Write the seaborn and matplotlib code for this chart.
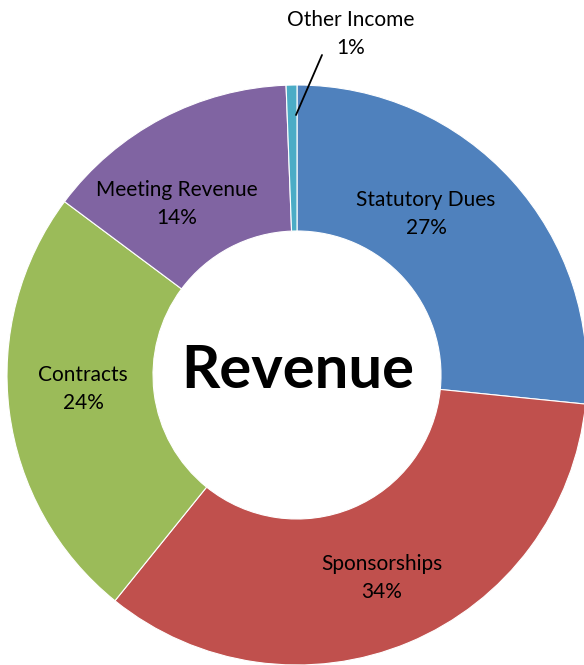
import matplotlib
matplotlib.use("Agg")
import matplotlib.pyplot as plt
import seaborn as sns

# Revenue split
categories = ['Statutory Dues', 'Sponsorships', 'Contracts', 'Meeting Revenue', 'Other Income']
shares = [26.6, 34.2, 24.4, 14.2, 0.6]
pct_labels = ['27%', '34%', '24%', '14%', '1%']
colors = ['#4F81BD', '#C0504D', '#9BBB59', '#8064A2', '#4BACC6']

sns.set_style('white')
plt.rcParams['font.family'] = ['Lato', 'DejaVu Sans']

W, H = 584, 665
fig = plt.figure(figsize=(W / 100, H / 100), dpi=100)
ax = fig.add_axes([0, 0, 1, 1])

# donut, clockwise from 12 o'clock
ax.pie(shares, colors=colors, startangle=90, counterclock=False,
       center=(297, H - 375), radius=290,
       wedgeprops=dict(width=146, edgecolor='white', linewidth=0.8))

ax.set_xlim(0, W)
ax.set_ylim(0, H)
ax.set_aspect('equal')
ax.axis('off')

# label positions in pixels from the top-left
label_pos = {
    'Statutory Dues': (426, 214),
    'Sponsorships': (382, 578),
    'Contracts': (83, 389),
    'Meeting Revenue': (177, 204),
    'Other Income': (351, 34),
}
for name, pct in zip(categories, pct_labels):
    x, y = label_pos[name]
    ax.text(x, H - y, f'{name}\n{pct}', ha='center', va='center',
            fontsize=15, linespacing=1.45, color='black')

# leader line for the tiny slice
ax.plot([322, 296], [H - 55, H - 115], color='black', lw=1.3)

ax.text(298, H - 371, 'Revenue', ha='center', va='center',
        fontsize=43, fontweight='bold', color='black')

fig.savefig('out.png', dpi=100)
